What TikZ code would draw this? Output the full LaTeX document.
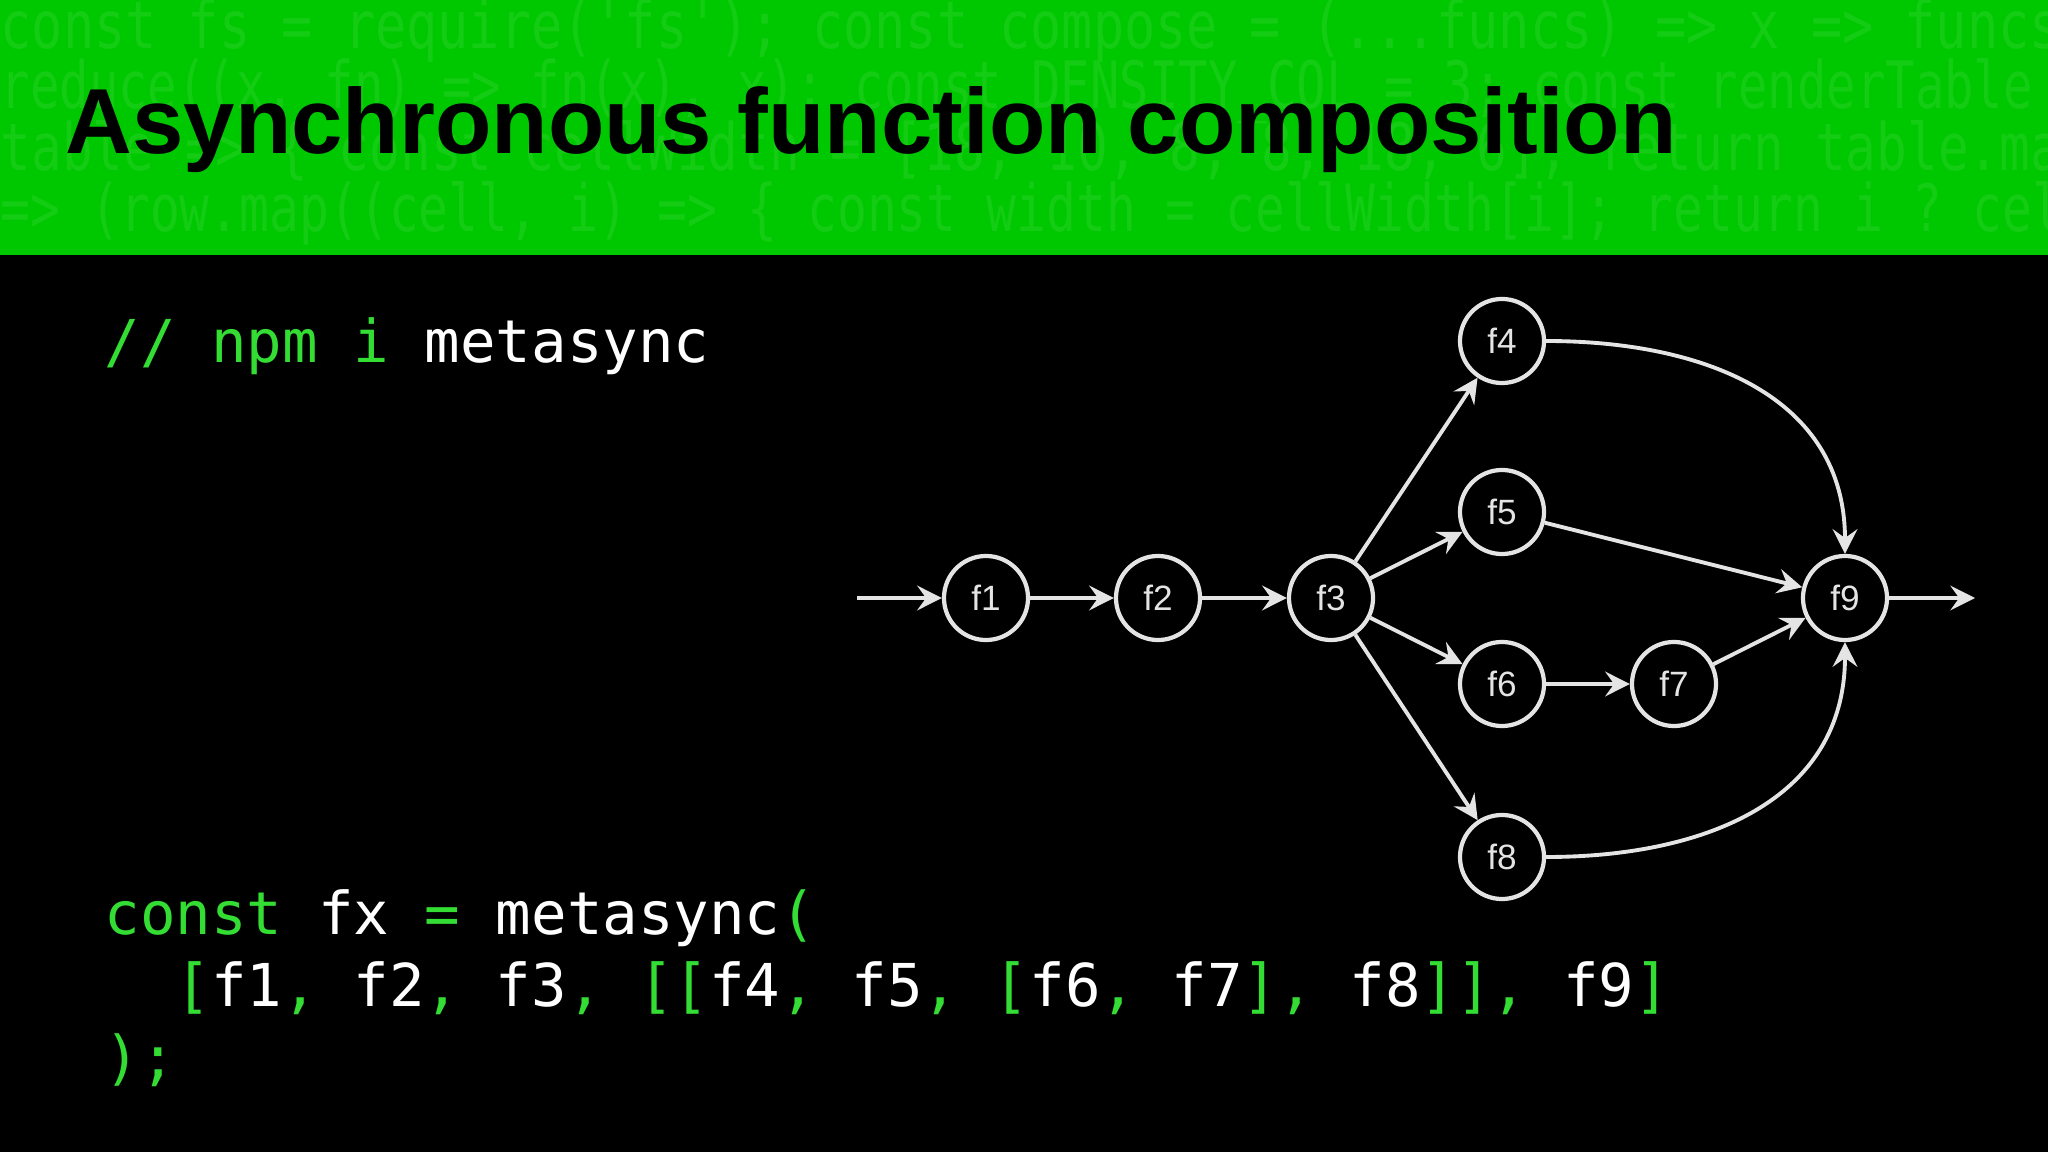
\documentclass[tikz,border=0pt]{standalone}
\usepackage{fontspec}
\setmainfont{Liberation Sans}
\setmonofont{DejaVu Sans Mono}
\usetikzlibrary{arrows.meta}
\definecolor{band}{HTML}{00C800}
\definecolor{bandtext}{HTML}{14CC14}
\definecolor{codegreen}{HTML}{33DD33}
\definecolor{edgegrey}{HTML}{E4E4E4}
\newcommand{\gr}[1]{\textcolor{codegreen}{#1}}
\tikzset{
  fn/.style={circle, draw=edgegrey, line width=1.2pt, minimum size=0.84cm, inner sep=0pt,
    text=edgegrey, font=\fontsize{10}{12}\selectfont},
  flow/.style={draw=edgegrey, line width=1.1pt, -{Stealth[length=7pt,width=7pt,inset=2.5pt]}},
  code/.style={anchor=west, text=white, font=\ttfamily\fontsize{16.8}{20}\selectfont, inner sep=0pt},
  bgcode/.style={anchor=west, text=bandtext, inner sep=0pt}
}
\begin{document}
\begin{tikzpicture}[x=0.01cm, y=-0.01cm]
        \useasboundingbox (0,0) rectangle (2048,1152);
        \fill[black] (0,0) rectangle (2048,1152);

        % Header band
        \fill[band] (0,0) rectangle (2048,255);
        \begin{scope}
          \clip (0,0) rectangle (2048,255);
          \foreach \y/\txt in {30/{const fs = require('fs'); const compose = (...funcs) => x => funcs.},
                               91/{reduce((x, fn) => fn(x), x); const DENSITY\_COL = 3; const renderTable =},
                               152/{table => \{ const cellWidth = [18, 10, 8, 8, 18, 6]; return table.map},
                               213/{=> (row.map((cell, i) => \{ const width = cellWidth[i]; return i ? cell}}
            \node[bgcode] at (0,\y) {\resizebox{20.9cm}{0.5cm}{\ttfamily\txt}};
        \end{scope}
        \node[anchor=west, inner sep=0pt] (title) at (65,130)
          {\resizebox{16.1cm}{!}{\bfseries Asynchronous function composition}};

        % Code
        \node[code] (npm) at (104,346) {\gr{// npm i} metasync};
        \node[code] (l1) at (104,918) {\gr{const} fx \gr{=} metasync\gr{(}};
        \node[code] (l2) at (104,988) {\ \ \gr{[}f1\gr{,} f2\gr{,} f3\gr{,} \gr{[[}f4\gr{,} f5\gr{,} \gr{[}f6\gr{,} f7\gr{],} f8\gr{]],} f9\gr{]}};
        \node[code] (l3) at (104,1060) {\gr{);}};

        % Graph
        \node[fn] (f1) at (986,598) {f1};
        \node[fn] (f2) at (1158,598) {f2};
        \node[fn] (f3) at (1331,598) {f3};
        \node[fn] (f4) at (1502,341) {f4};
        \node[fn] (f5) at (1502,512) {f5};
        \node[fn] (f6) at (1502,684) {f6};
        \node[fn] (f7) at (1674,684) {f7};
        \node[fn] (f8) at (1502,857) {f8};
        \node[fn] (f9) at (1845,598) {f9};
        \coordinate (in) at (857,598);
        \coordinate (out) at (1975,598);

        \draw[flow] (in) -- (f1);
        \draw[flow] (f1) -- (f2);
        \draw[flow] (f2) -- (f3);
        \foreach \n in {f4,f5,f6,f8} \draw[flow] (f3) -- (\n);
        \draw[flow] (f6) -- (f7);
        \draw[flow] (f5) -- (f9);
        \draw[flow] (f7) -- (f9);
        \draw[flow] (f4.east) to[out=0, in=90, looseness=1.1] (f9.north);
        \draw[flow] (f8.east) to[out=0, in=-90, looseness=1.1] (f9.south);
        \draw[flow] (f9) -- (out);
\end{tikzpicture}
\end{document}
